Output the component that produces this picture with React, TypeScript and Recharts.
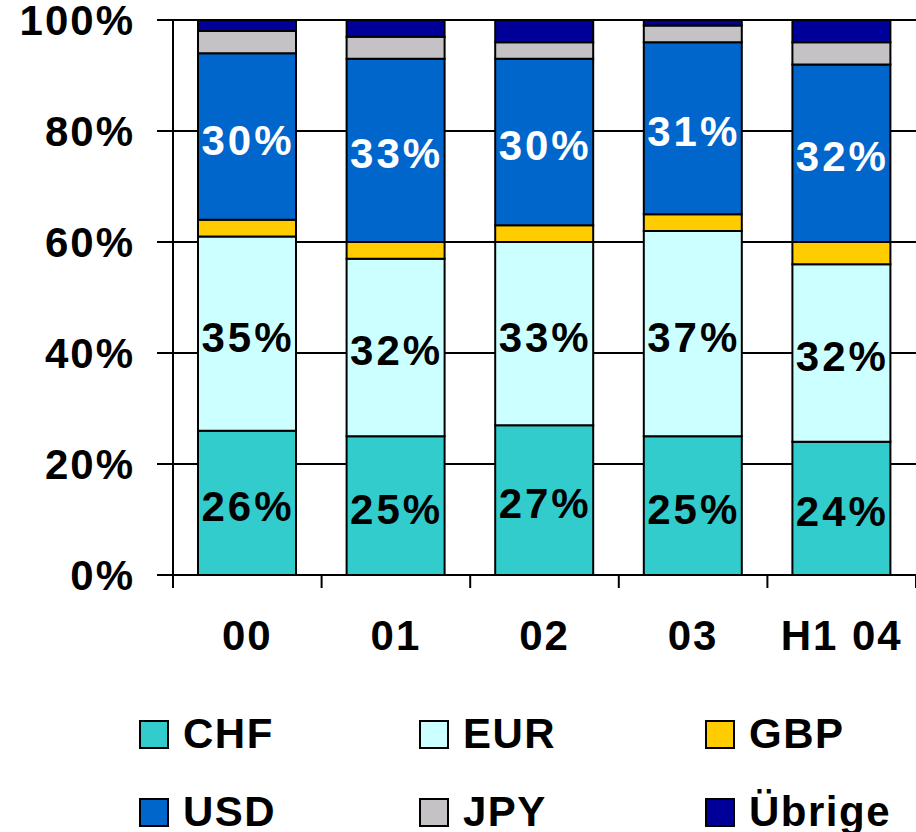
import React from "react";
import { BarChart, Bar, XAxis, YAxis, CartesianGrid, LabelList } from "recharts";

const categories = ["00", "01", "02", "03", "H1 04"];
const chf = [26, 25, 27, 25, 24];
const eur = [35, 32, 33, 37, 32];
const gbp = [3, 3, 3, 3, 4];
const usd = [30, 33, 30, 31, 32];
const jpy = [4, 4, 3, 3, 4];
const other = [2, 3, 4, 1, 4];
const yTicks = [0, 20, 40, 60, 80, 100];

const series = [
  { key: "chf", name: "CHF", color: "#33CCCC", label: "#000" },
  { key: "eur", name: "EUR", color: "#CCFFFF", label: "#000" },
  { key: "gbp", name: "GBP", color: "#FFCC00", label: null },
  { key: "usd", name: "USD", color: "#0066CC", label: "#fff" },
  { key: "jpy", name: "JPY", color: "#C4C2C4", label: null },
  { key: "other", name: "Übrige", color: "#000099", label: null },
];

const data = categories.map((cat, i) => ({
  cat,
  chf: chf[i],
  eur: eur[i],
  gbp: gbp[i],
  usd: usd[i],
  jpy: jpy[i],
  other: other[i],
}));

const FONT = '"Liberation Sans", Arial, Helvetica, sans-serif';
const W = 916;
const H = 832;
const Y_AXIS_W = 173;
const BAND = (W - Y_AXIS_W) / categories.length;

function XTick(props: any) {
  const { x, y, payload, index } = props;
  const half = BAND / 2;
  return (
    <g>
      <line x1={x - half} x2={x - half} y1={y} y2={y + 13} stroke="#000" strokeWidth={2} />
      {index === categories.length - 1 && (
        <line x1={x + half} x2={x + half} y1={y} y2={y + 13} stroke="#000" strokeWidth={2} />
      )}
      <text
        x={x}
        y={y + 75}
        textAnchor="middle"
        fontFamily={FONT}
        fontWeight={700}
        fontSize={42}
        fill="#000"
        style={{ letterSpacing: 2 }}
      >
        {payload.value}
      </text>
    </g>
  );
}

function segLabel(color: string) {
  return (props: any) => {
    const { x, y, width, height, value } = props;
    return (
      <text
        x={x + width / 2 + 1}
        y={y + height / 2 + 18}
        textAnchor="middle"
        fontFamily={FONT}
        fontWeight={700}
        fontSize={42}
        fill={color}
        style={{ letterSpacing: 3 }}
      >
        {`${value}%`}
      </text>
    );
  };
}

const legendCols = [139, 419, 705];
const legendRows = [720, 798];

export default function App() {
  return (
    <div style={{ position: "absolute", left: 0, top: 0, width: W, height: H, background: "#fff" }}>
      <BarChart
        width={W}
        height={H}
        data={data}
        margin={{ top: 20, right: 0, left: 0, bottom: 0 }}
        barSize={98}
      >
        <CartesianGrid vertical={false} stroke="#000" strokeWidth={2} />
        <XAxis
          dataKey="cat"
          height={H - 575}
          axisLine={{ stroke: "#000", strokeWidth: 2 }}
          tickLine={false}
          tickSize={0}
          tickMargin={0}
          interval={0}
          tick={<XTick />}
        />
        <YAxis
          width={Y_AXIS_W}
          domain={[0, 100]}
          ticks={yTicks}
          interval={0}
          tickFormatter={(v: number) => `${v}%`}
          axisLine={{ stroke: "#000", strokeWidth: 2 }}
          tickLine={{ stroke: "#000", strokeWidth: 2 }}
          tickSize={16}
          tickMargin={22}
          tick={{ fontSize: 42, fontWeight: 700, fill: "#000", fontFamily: FONT, letterSpacing: 2 }}
        />
        {series.map((s) => (
          <Bar
            key={s.key}
            dataKey={s.key}
            name={s.name}
            stackId="a"
            fill={s.color}
            stroke="#000"
            strokeWidth={2}
            isAnimationActive={false}
          >
            {s.label && <LabelList dataKey={s.key} content={segLabel(s.label)} />}
          </Bar>
        ))}
      </BarChart>
      {series.map((s, i) => (
        <div
          key={s.key}
          style={{
            position: "absolute",
            left: legendCols[i % 3],
            top: legendRows[Math.floor(i / 3)],
            display: "flex",
            alignItems: "center",
            height: 28,
          }}
        >
          <div
            style={{
              width: 26,
              height: 25,
              background: s.color,
              border: "2px solid #000",
              marginRight: 14,
            }}
          />
          <span
            style={{
              fontFamily: FONT,
              fontWeight: 700,
              fontSize: 42,
              lineHeight: 1,
              letterSpacing: 1.5,
              color: "#000",
            }}
          >
            {s.name}
          </span>
        </div>
      ))}
    </div>
  );
}
